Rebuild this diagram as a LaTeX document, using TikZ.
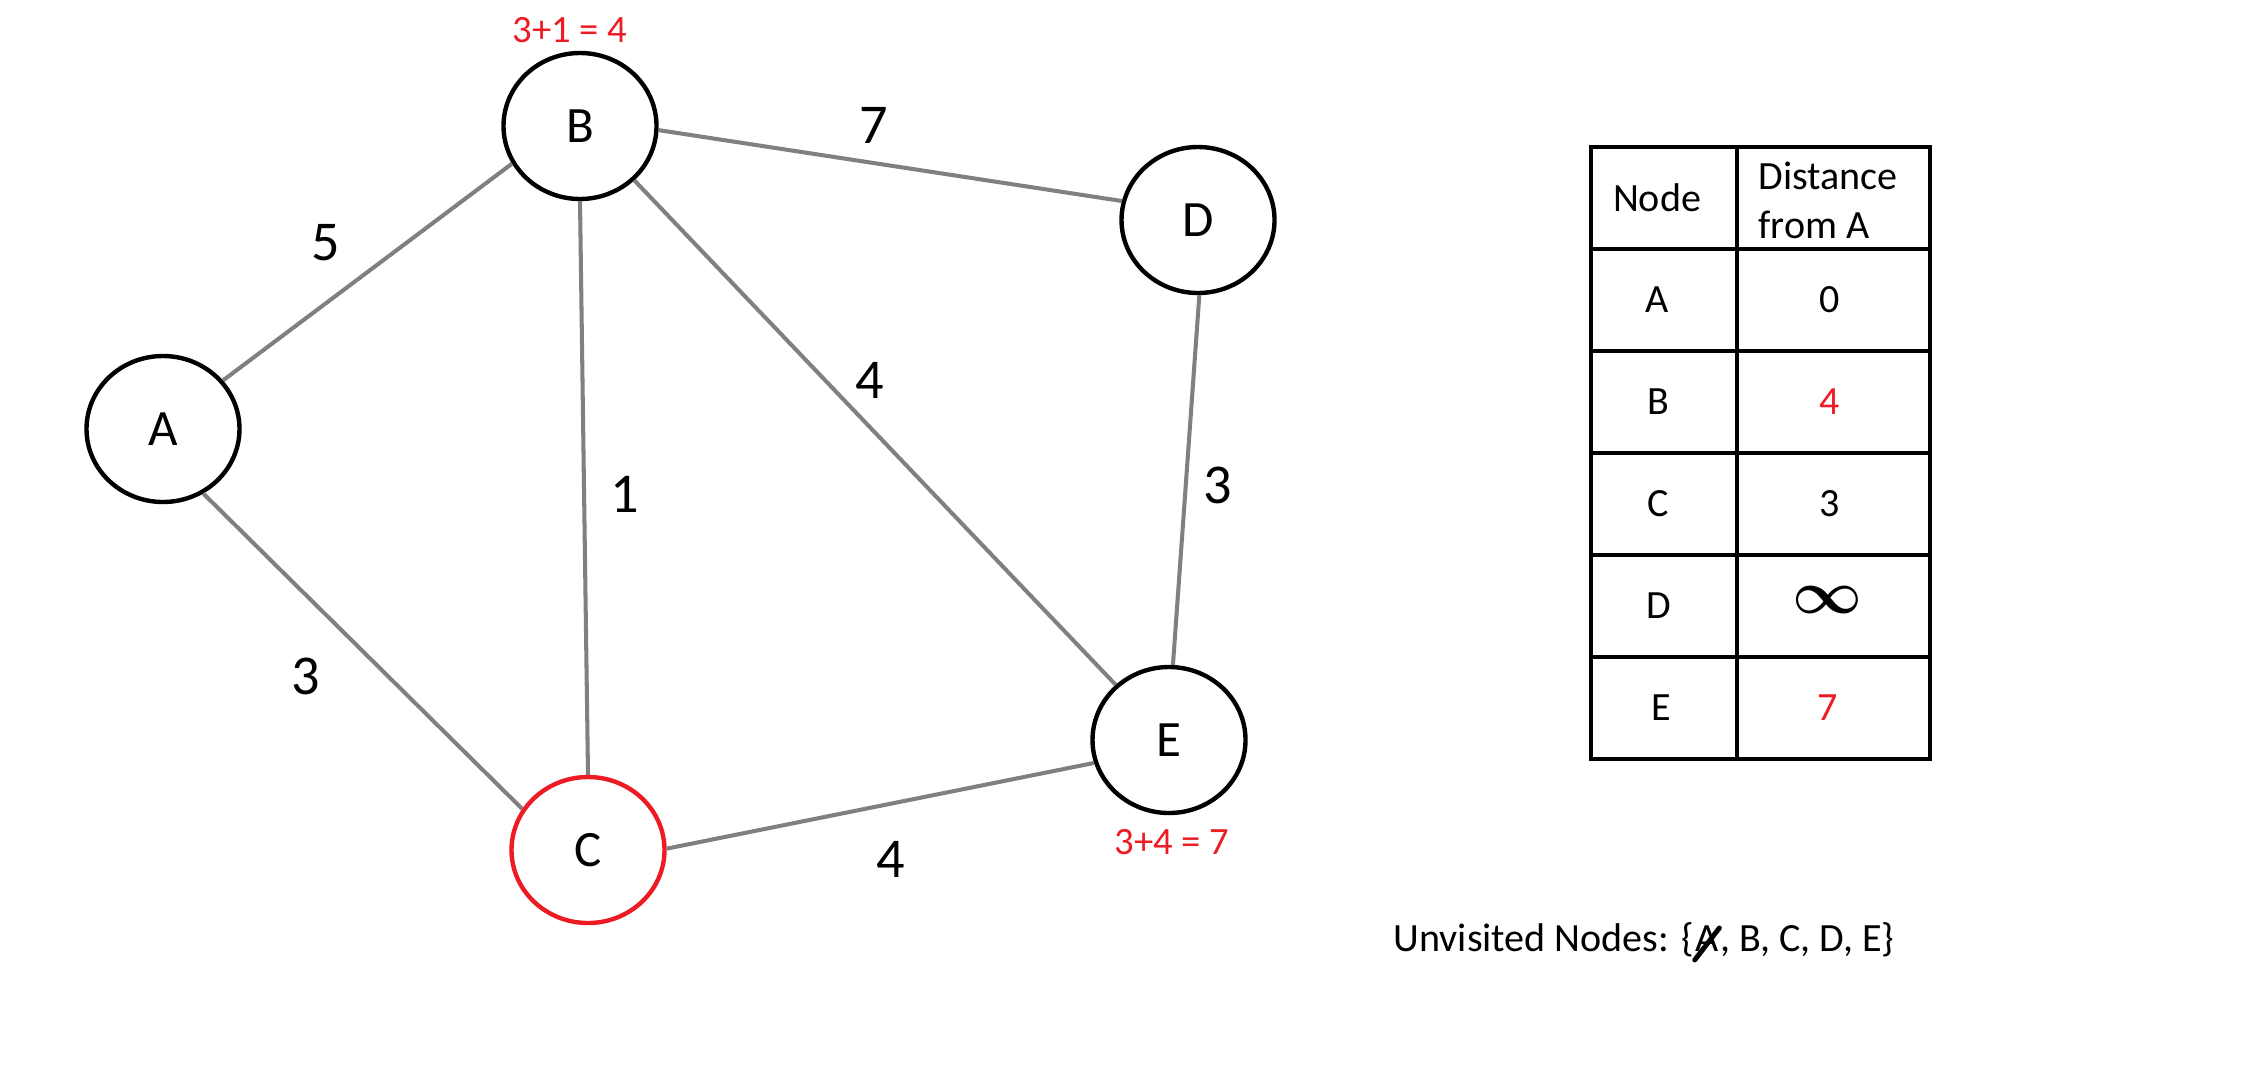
\documentclass[tikz,border=0pt]{standalone}
\usepackage{fontspec}
\setmainfont{Carlito}
\usetikzlibrary{shapes.geometric}
\definecolor{sumred}{RGB}{237,28,36}

\begin{document}
\begin{tikzpicture}[
		main/.style = {draw, ellipse, line width=1.25pt, minimum width=1.53cm, minimum height=1.46cm, inner sep=0pt, font=\fontsize{14.5}{16}\selectfont},
		seen/.style = {main, draw=sumred},
		link/.style = {draw=gray, line width=1.15pt},
		weight/.style = {inner sep=0pt, font=\fontsize{16}{18}\selectfont},
		sum/.style = {inner sep=0pt, text=sumred, font=\fontsize{11}{13}\selectfont},
		cell/.style = {inner sep=0pt, font=\fontsize{11.4}{14}\selectfont},
		grid/.style = {line width=1.35pt}
	]
	\useasboundingbox (0,0) rectangle (22.5,10.64);
	\node[main] (A) at (1.63,6.35) {A};
	\node[main] (B) at (5.80,9.38) {B};
	\node[seen] (C) at (5.88,2.14) {C};
	\node[main] (D) at (11.98,8.44) {D};
	\node[main] (E) at (11.69,3.24) {E};
	\draw[link] (A.39) -- (B.209);
	\draw[link] (A.302) -- (C.148);
	\draw[link] (B.270) -- (C.90);
	\draw[link] (B.357) -- (D.166);
	\draw[link] (B.315) -- (E.134);
	\draw[link] (D.271) -- (E.87);
	\draw[link] (C.1) -- (E.197);
	\node[weight] (wAB) at (3.26,8.21) {5};
	\node[weight] (wBD) at (8.74,9.39) {7};
	\node[weight] (wBE) at (8.70,6.84) {4};
	\node[weight] (wBC) at (6.25,5.70) {1};
	\node[weight] (wDE) at (12.18,5.79) {3};
	\node[weight] (wAC) at (3.06,3.88) {3};
	\node[weight] (wCE) at (8.91,2.05) {4};
	\node[sum] (sumB) at (5.70,10.34) {3+1 = 4};
	\node[sum] (sumE) at (11.72,2.22) {3+4 = 7};
	% distance table
	\draw[grid] (15.91,3.05) rectangle (19.30,9.17);
	\draw[grid] (17.37,3.05) -- (17.37,9.17);
	\draw[grid] (15.91,8.15) -- (19.30,8.15);
	\draw[grid] (15.91,7.13) -- (19.30,7.13);
	\draw[grid] (15.91,6.11) -- (19.30,6.11);
	\draw[grid] (15.91,5.09) -- (19.30,5.09);
	\draw[grid] (15.91,4.07) -- (19.30,4.07);
	\node[cell] (hnode) at (16.57,8.66) {Node};
	\node[cell, anchor=west, align=left] (hdist) at (17.58,8.64) {Distance\\from A};
	\node[cell] (nA) at (16.57,7.64) {A};
	\node[cell] (dA) at (18.30,7.64) {0};
	\node[cell] (nB) at (16.58,6.62) {B};
	\node[cell, text=sumred] (dB) at (18.30,6.62) {4};
	\node[cell] (nC) at (16.58,5.60) {C};
	\node[cell] (dC) at (18.30,5.60) {3};
	\node[cell] (nD) at (16.59,4.58) {D};
	\node[cell, font=\fontsize{16.5}{18}\selectfont\boldmath] (dD) at (18.27,4.64) {$\infty$};
	\node[cell] (nE) at (16.61,3.56) {E};
	\node[cell, text=sumred] (dE) at (18.28,3.56) {7};
	% unvisited set
	\node[cell, anchor=base west] (unv) at (13.93,1.125) {Unvisited Nodes: \{};
	\node[cell, anchor=base west] (unvA) at (unv.base east) {A};
	\node[cell, anchor=base west] (unvrest) at (unvA.base east) {, B, C, D, E\}};
	\draw[line width=1.4pt, line cap=round] ([yshift=-2.4pt]unvA.base west) -- ([yshift=6.7pt]unvA.base east);
\end{tikzpicture}
\end{document}
